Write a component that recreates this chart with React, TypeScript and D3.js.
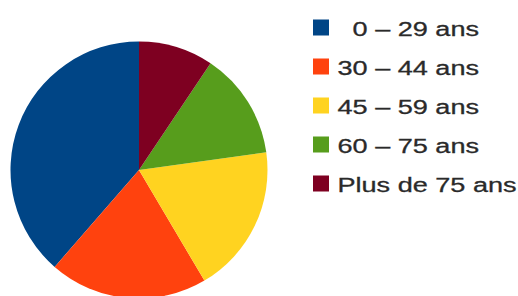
import { useEffect, useRef } from "react";
import * as d3 from "d3";

const categories = ["\u20070 – 29 ans", "30 – 44 ans", "45 – 59 ans", "60 – 75 ans", "Plus de 75 ans"];
const shares = [38.6, 19.9, 18.7, 13.4, 9.4];
const colors = ["#004586", "#ff420e", "#ffd320", "#579d1c", "#7e0021"];

export default function App() {
  const width = 518;
  const height = 296;
  const svgRef = useRef<SVGSVGElement>(null);

  useEffect(() => {
    const svg = d3.select(svgRef.current);
    svg.selectAll("*").remove();

    const data = categories.map((c, i) => ({ label: c, value: shares[i], color: colors[i] }));

    // pie runs counter-clockwise from 12 o'clock
    const pie = d3
      .pie<{ label: string; value: number; color: string }>()
      .sort(null)
      .value((d) => d.value)
      .startAngle(0)
      .endAngle(-2 * Math.PI);

    const arc = d3
      .arc<d3.PieArcDatum<{ label: string; value: number; color: string }>>()
      .innerRadius(0)
      .outerRadius(128.5);

    svg
      .append("g")
      .attr("transform", "translate(139, 170)")
      .selectAll("path")
      .data(pie(data))
      .join("path")
      .attr("d", arc)
      .attr("fill", (d) => d.data.color);

    // legend
    const row = d3.scaleLinear().domain([0, 1]).range([35.5, 74.5]);
    const legend = svg.append("g");
    legend
      .selectAll("rect")
      .data(data)
      .join("rect")
      .attr("x", 313)
      .attr("y", (_, i) => row(i) - 16)
      .attr("width", 16)
      .attr("height", 16)
      .attr("fill", (d) => d.color);

    legend
      .selectAll("text")
      .data(data)
      .join("text")
      .attr("transform", (_, i) => `translate(337.5, ${row(i)}) scale(1.29, 1)`)
      .attr("font-family", "'Liberation Sans', Arial, sans-serif")
      .attr("font-size", 21)
      .attr("fill", "#2a2a2a")
      .attr("stroke", "#2a2a2a")
      .attr("stroke-width", 0.3)
      .text((d) => d.label);
  }, []);

  return (
    <svg
      ref={svgRef}
      width={width}
      height={height}
      style={{ position: "absolute", left: 0, top: 0, background: "#ffffff" }}
    />
  );
}
